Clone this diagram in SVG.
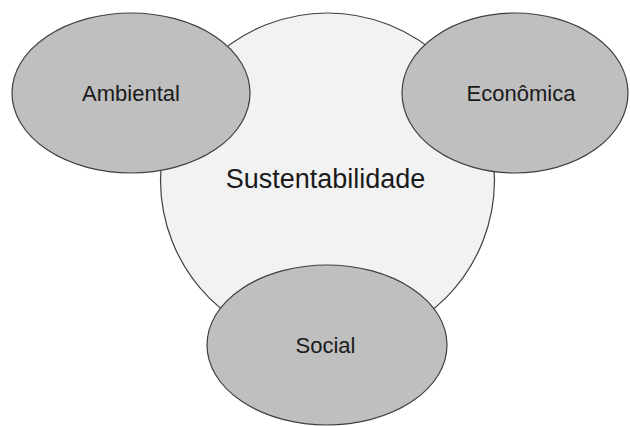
<svg xmlns="http://www.w3.org/2000/svg" width="630" height="426" viewBox="0 0 630 426">
<style>
.big{fill:#f2f2f2;stroke:#3f3f3f;stroke-width:1.2}
.ell{fill:#bfbfbf;stroke:#3f3f3f;stroke-width:1.2}
text{font-family:"Liberation Sans",Arial,sans-serif;fill:#1a1a1a;text-anchor:middle}
.lbl{font-size:22px}
.main{font-size:27px}
</style>
<rect width="630" height="426" fill="#ffffff"/>
<g id="sustentabilidade">
<circle class="big" cx="327.5" cy="180" r="167"/>
<text class="main" x="325.5" y="188">Sustentabilidade</text>
</g>
<g id="ambiental">
<ellipse class="ell" cx="131" cy="93" rx="119" ry="80"/>
<text class="lbl" x="131" y="101">Ambiental</text>
</g>
<g id="economica">
<ellipse class="ell" cx="515" cy="93" rx="113" ry="80"/>
<text class="lbl" x="521" y="101">Econômica</text>
</g>
<g id="social">
<ellipse class="ell" cx="327" cy="345" rx="120" ry="80"/>
<text class="lbl" x="325.5" y="353">Social</text>
</g>
<g id="connectors"></g>
</svg>
